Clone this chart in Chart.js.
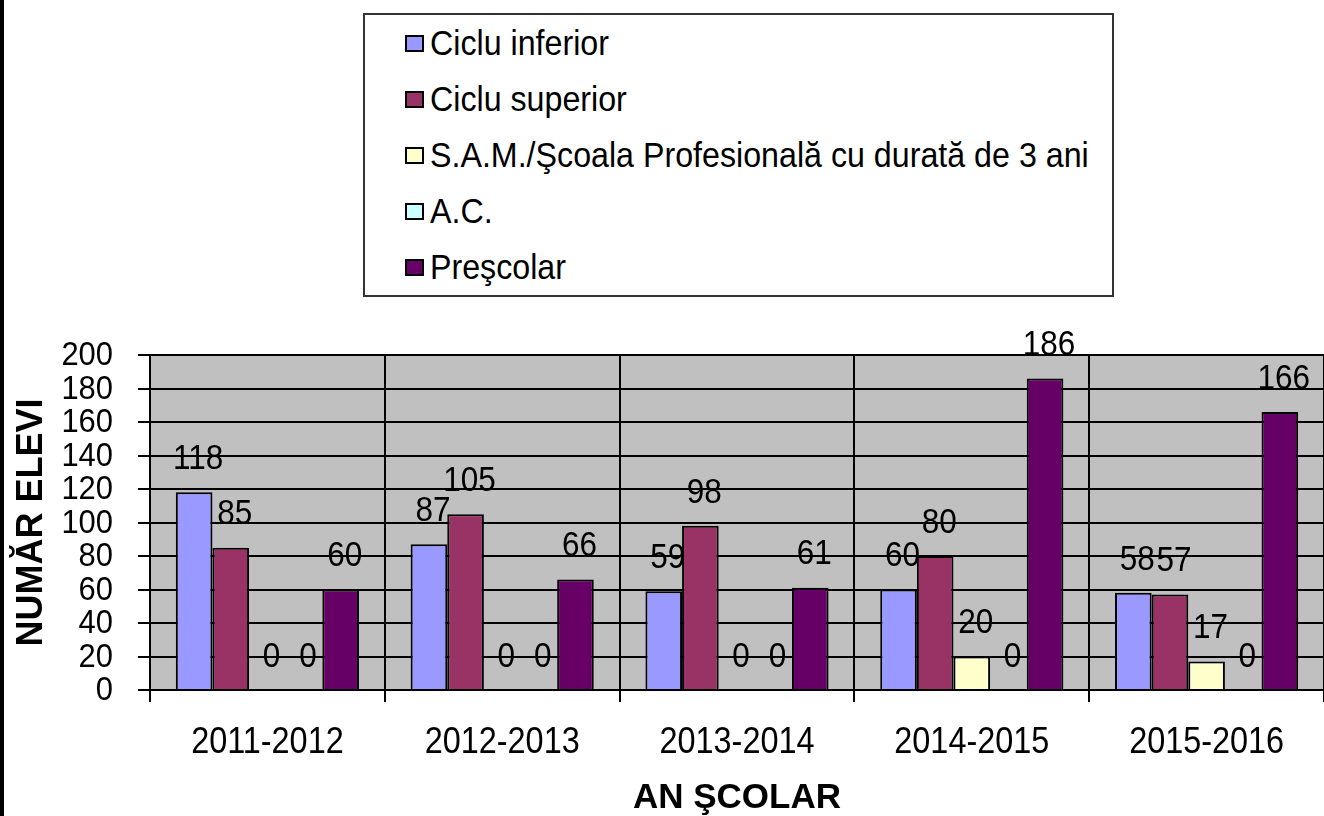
<!DOCTYPE html>
<html>
<head>
<meta charset="utf-8">
<script src="https://cdn.jsdelivr.net/npm/chart.js@4.4.1/dist/chart.umd.min.js"></script>
<style>
  html, body { margin: 0; padding: 0; background: #fff; }
  #wrap { position: relative; width: 1324px; height: 816px; overflow: hidden; }
  #strip { position: absolute; left: 0; top: 0; width: 4px; height: 816px; background: #000; }
  #legend {
    position: absolute; left: 363px; top: 13px; width: 747px; height: 280px;
    border: 2px solid #333; background: #fff;
    font-family: "Liberation Sans", Arial, sans-serif;
    font-size: 35px; color: #000;
  }
  .item { position: absolute; left: 40px; height: 40px; line-height: 40px; white-space: nowrap; }
  .box { display: inline-block; width: 15px; height: 13px; border: 2px solid #000; vertical-align: middle; position: relative; top: -2px; }
  .txt { display: inline-block; transform: scaleX(0.92); transform-origin: left center; margin-left: 6px; }
</style>
</head>
<body>
<div id="wrap">
  <canvas id="chart" width="1324" height="816"></canvas>
  <div id="strip"></div>
  <div id="legend"></div>
</div>
<script>
var font = '"Liberation Sans", Arial, sans-serif';

// data
var years = ['2011-2012', '2012-2013', '2013-2014', '2014-2015', '2015-2016'];
var cicluInferior = [118, 87, 59, 60, 58];
var cicluSuperior = [85, 105, 98, 80, 57];
var samScoala = [0, 0, 0, 20, 17];
var acValues = [0, 0, 0, 0, 0];
var prescolar = [60, 66, 61, 186, 166];

var seriesNames = ['Ciclu inferior', 'Ciclu superior', 'S.A.M./Şcoala Profesională cu durată de 3 ani', 'A.C.', 'Preşcolar'];
var seriesColors = ['#9999FF', '#993366', '#FFFFCC', '#CCFFFF', '#660066'];
var seriesData = [cicluInferior, cicluSuperior, samScoala, acValues, prescolar];

// narrow-looking text: squeeze horizontally
function squeezeText(ctx, text, x, y, align, sx) {
    ctx.save();
    ctx.translate(x, y);
    ctx.scale(sx, 1);
    ctx.textAlign = align;
    ctx.fillText(text, 0, 0);
    ctx.restore();
}

// grey plot background
var plotBg = {
    id: 'plotBg',
    beforeDraw: function(chart) {
        var a = chart.chartArea, ctx = chart.ctx;
        ctx.save();
        ctx.fillStyle = '#C0C0C0';
        ctx.fillRect(a.left, a.top, a.right - a.left, a.bottom - a.top);
        ctx.restore();
    }
};

// tick labels and value labels drawn condensed
var textLayer = {
    id: 'textLayer',
    afterDraw: function(chart) {
        var ctx = chart.ctx;
        var xs = chart.scales.x, ys = chart.scales.y;
        ctx.save();
        ctx.fillStyle = '#000';
        ctx.textBaseline = 'middle';

        ctx.font = '34px ' + font;
        ys.ticks.forEach(function(t, i) {
            squeezeText(ctx, String(t.value), 113, ys.getPixelForTick(i) + 1, 'right', 0.91);
        });

        ctx.font = '36px ' + font;
        xs.ticks.forEach(function(t, i) {
            squeezeText(ctx, years[i], xs.getPixelForTick(i), 743, 'center', 0.9);
        });

        ctx.font = '35px ' + font;
        chart.data.datasets.forEach(function(ds, i) {
            chart.getDatasetMeta(i).data.forEach(function(bar, j) {
                squeezeText(ctx, String(ds.data[j]), bar.x + 4, bar.y - 33, 'center', 0.9);
            });
        });
        ctx.restore();
    }
};

var datasets = seriesNames.map(function(name, i) {
    return {
        label: name,
        data: seriesData[i],
        backgroundColor: seriesColors[i],
        borderColor: '#000',
        borderWidth: 2,
        borderSkipped: 'bottom',
        categoryPercentage: 0.78,
        barPercentage: 1
    };
});

var chart = new Chart(document.getElementById('chart').getContext('2d'), {
    type: 'bar',
    data: { labels: years, datasets: datasets },
    options: {
        responsive: false,
        animation: false,
        layout: { padding: { top: 355, left: 0, right: 0, bottom: 0 } },
        plugins: { legend: { display: false }, tooltip: { enabled: false } },
        scales: {
            x: {
                grid: { color: '#000', lineWidth: 2, offset: true, tickLength: 12, tickColor: '#000' },
                border: { color: '#000', width: 2 },
                ticks: { color: 'rgba(0,0,0,0)', font: { family: font, size: 34 }, padding: 22, maxRotation: 0, autoSkip: false },
                title: { display: true, text: 'AN ŞCOLAR', color: '#000',
                         font: { family: font, size: 35, weight: 'bold', lineHeight: 1 }, padding: { top: 0, bottom: 0 } },
                afterFit: function(s) { s.height = 126; }
            },
            y: {
                min: 0, max: 200,
                grid: { color: '#000', lineWidth: 2, tickLength: 12, tickColor: '#000' },
                border: { color: '#000', width: 2 },
                ticks: { stepSize: 20, autoSkip: false, color: 'rgba(0,0,0,0)', font: { family: font, size: 20 }, padding: 25 },
                title: { display: true, text: 'NUMĂR ELEVI', color: '#000',
                         font: { family: font, size: 36, weight: 'bold', lineHeight: 1.1 }, padding: { top: 12, bottom: 0 } },
                afterFit: function(s) { s.width = 150; }
            }
        }
    },
    plugins: [plotBg, textLayer]
});

// legend box built from the same series
var legend = document.getElementById('legend');
seriesNames.forEach(function(name, i) {
    var row = document.createElement('div');
    row.className = 'item';
    row.style.top = (8 + i * 56) + 'px';
    var box = document.createElement('span');
    box.className = 'box';
    box.style.background = seriesColors[i];
    var txt = document.createElement('span');
    txt.className = 'txt';
    txt.textContent = name;
    row.appendChild(box);
    row.appendChild(txt);
    legend.appendChild(row);
});
</script>
</body>
</html>
